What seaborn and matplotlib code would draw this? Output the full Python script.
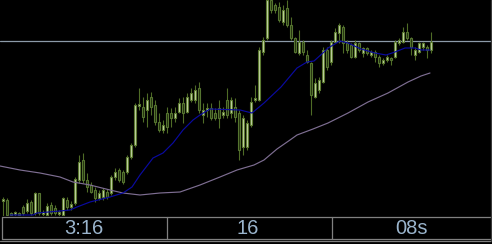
import numpy as np
import pandas as pd
import matplotlib
matplotlib.use("Agg")
import matplotlib.pyplot as plt
import seaborn as sns

# ---- data (price units) ----
opens = [15, 16, 3, 2, 3, 9, 5, 14, 3, 23, 2, 1, 11, 8, 2, 1, 16, 9, 13, 36,
         56, 36, 31, 26, 18, 19, 24, 23, 39, 46, 44, 44, 59, 71, 110, 109, 106, 119, 111, 94,
         86, 103, 103, 98, 104, 113, 104, 116, 116, 128, 101, 106, 108, 103, 108, 101, 116, 103, 109, 103,
         69, 69, 91, 116, 116, 164, 178, 216, 211, 209, 194, 208, 191, 178, 163, 174, 161, 153, 119, 126,
         134, 166, 154, 174, 183, 189, 173, 171, 159, 173, 163, 168, 161, 164, 159, 153, 156, 158, 159, 173,
         174, 184, 178, 161, 164, 169, 169, 166]
highs = [19, 18, 4, 5, 4, 11, 17, 16, 24, 23, 6, 13, 14, 11, 6, 19, 19, 15, 39, 61,
         63, 43, 34, 29, 26, 28, 27, 41, 48, 48, 46, 61, 73, 113, 128, 119, 123, 124, 116, 103,
         96, 109, 108, 109, 118, 119, 123, 128, 131, 134, 113, 113, 113, 108, 116, 109, 128, 119, 118, 106,
         101, 96, 119, 131, 169, 179, 221, 221, 213, 214, 211, 216, 199, 179, 186, 176, 166, 154, 138, 139,
         169, 169, 176, 188, 193, 191, 176, 173, 176, 174, 169, 169, 166, 166, 161, 158, 161, 159, 176, 178,
         189, 193, 179, 169, 174, 174, 171, 184]
lows = [0, 0, 0, 0, 0, 1, 3, 1, 1, 1, 0, 0, 1, 1, 0, 0, 6, 6, 11, 33,
        33, 24, 23, 14, 16, 16, 17, 21, 36, 34, 32, 42, 57, 69, 106, 94, 89, 101, 91, 84,
        83, 83, 89, 94, 103, 93, 103, 114, 113, 103, 93, 99, 96, 96, 88, 98, 98, 98, 94, 56,
        61, 66, 89, 114, 115, 161, 176, 203, 203, 194, 191, 189, 176, 163, 161, 161, 153, 101, 118, 123,
        133, 146, 151, 173, 173, 163, 163, 158, 158, 164, 159, 161, 159, 154, 149, 151, 154, 151, 158, 171,
        173, 176, 161, 156, 163, 166, 158, 163]
closes = [17, 1, 1, 4, 1, 3, 13, 3, 23, 3, 4, 10, 3, 3, 4, 18, 9, 12, 37, 54,
          36, 29, 24, 18, 23, 26, 19, 39, 44, 36, 34, 59, 71, 111, 112, 99, 116, 109, 94, 86,
          91, 89, 98, 103, 113, 103, 119, 123, 126, 106, 106, 108, 98, 98, 98, 104, 101, 116, 99, 66,
          98, 93, 114, 118, 166, 176, 216, 206, 206, 196, 206, 191, 178, 164, 174, 164, 154, 121, 133, 136,
          166, 149, 174, 184, 191, 173, 166, 159, 173, 166, 168, 163, 164, 159, 153, 156, 159, 156, 174, 176,
          184, 178, 169, 166, 173, 173, 166, 174]

fast_ma_x = [1.75, 3.5, 7.5, 8.5, 14.25, 16.75, 18.5, 21.75, 26.75, 30, 32.25, 34.25, 37.5, 40, 42.5,
             45, 47.5, 49.25, 51.75, 59.25, 62.25, 65.25, 69.5, 73.5, 76, 77.75, 80.25, 81.25, 84.25,
             86.25, 89.5, 93, 95.75, 98, 100.5, 103, 104.5, 106.75]
fast_ma_y = [1, 1, 1, 3, 5, 6, 9, 14, 19, 23, 29, 41, 58, 63, 73,
             86, 96, 101, 107, 106, 103, 113, 129, 148, 154, 155, 164, 168, 175,
             173, 167, 163, 161, 164, 168, 168, 166, 166]

slow_ma_x = [-0.75, 4.25, 9.25, 14.25, 17.5, 21.75, 26.75, 30, 34.25, 39.25, 44.25, 49.25, 54.25,
             58.5, 62.75, 65.25, 68.5, 71.75, 73.5, 77.5, 81.25, 86.25, 91.25, 96.25, 101.25, 104.5, 106.75]
slow_ma_y = [50, 46, 43, 39, 34, 31, 26, 23, 21, 23, 24, 31, 39,
             46, 51, 56, 67, 76, 81, 87, 93, 103, 114, 123, 134, 140, 143]

level_price = 175
time_labels = ["3:16", "16", "08s"]

# ---- styling ----
W, H = 492, 244
DPI = 100
sns.set_style("dark", {"axes.facecolor": "black", "figure.facecolor": "black"})
plt.rcParams['font.family'] = ['Liberation Sans', 'DejaVu Sans']

fig = plt.figure(figsize=(W / DPI, H / DPI), dpi=DPI, facecolor="black")
ax = fig.add_axes([0, 28 / H, 1, 216 / H])
ax.set_facecolor("black")
ax.set_xlim(-0.75, 122.25)
ax.set_ylim(0, 216)
ax.axis("off")

df = pd.DataFrame({"i": np.arange(len(opens)), "o": opens, "h": highs, "l": lows, "c": closes})
df["bull"] = df["c"] >= df["o"]
df["bot"] = df[["o", "c"]].min(axis=1)
df["hgt"] = (df["c"] - df["o"]).abs().clip(lower=1)

wick_col = "#4f6c26"
ax.vlines(df["i"], df["l"], df["h"], color=wick_col, lw=0.8, zorder=2)
bull = df[df["bull"]]
bear = df[~df["bull"]]
ax.bar(bear["i"], bear["hgt"], bottom=bear["bot"], width=0.72, color="#23300e",
       edgecolor="#557430", linewidth=0.8, zorder=3)
ax.bar(bull["i"], bull["hgt"], bottom=bull["bot"], width=0.72, color="#c6d6aa",
       edgecolor="#5c7a30", linewidth=0.8, zorder=3)

ax.axhline(level_price, color="#8c9aa8", lw=0.9, zorder=1)

sns.lineplot(x=slow_ma_x, y=slow_ma_y, ax=ax, color="#7e6e92", lw=0.85, zorder=4)
sns.lineplot(x=fast_ma_x, y=fast_ma_y, ax=ax, color="#0a0aa0", lw=0.85, zorder=5)

# ---- time scale boxes (overlay in pixel coordinates) ----
ov = fig.add_axes([0, 0, 1, 1])
ov.set_xlim(0, W)
ov.set_ylim(H, 0)
ov.axis("off")
ov.patch.set_alpha(0)
gc = "#808080"
ov.plot([1.5, 490.5], [216.5, 216.5], color=gc, lw=0.9)
ov.plot([1.5, 490.5], [238.5, 238.5], color=gc, lw=0.9)
ov.plot([0, 490.5], [240.5, 240.5], color=gc, lw=0.9)
for xv in [1.5, 166.5, 331.5]:
    ov.plot([xv, xv], [216.5, 238.5], color=gc, lw=0.9)
ov.plot([490.5, 490.5], [0, 240.5], color="#3a3a3a", lw=0.9)
for xc, lab in zip([84, 248, 412], time_labels):
    ov.text(xc, 228.5, lab, color="#9ab4cc", fontsize=14.5, ha="center", va="center")

fig.savefig("out.png", dpi=DPI, facecolor="black")
